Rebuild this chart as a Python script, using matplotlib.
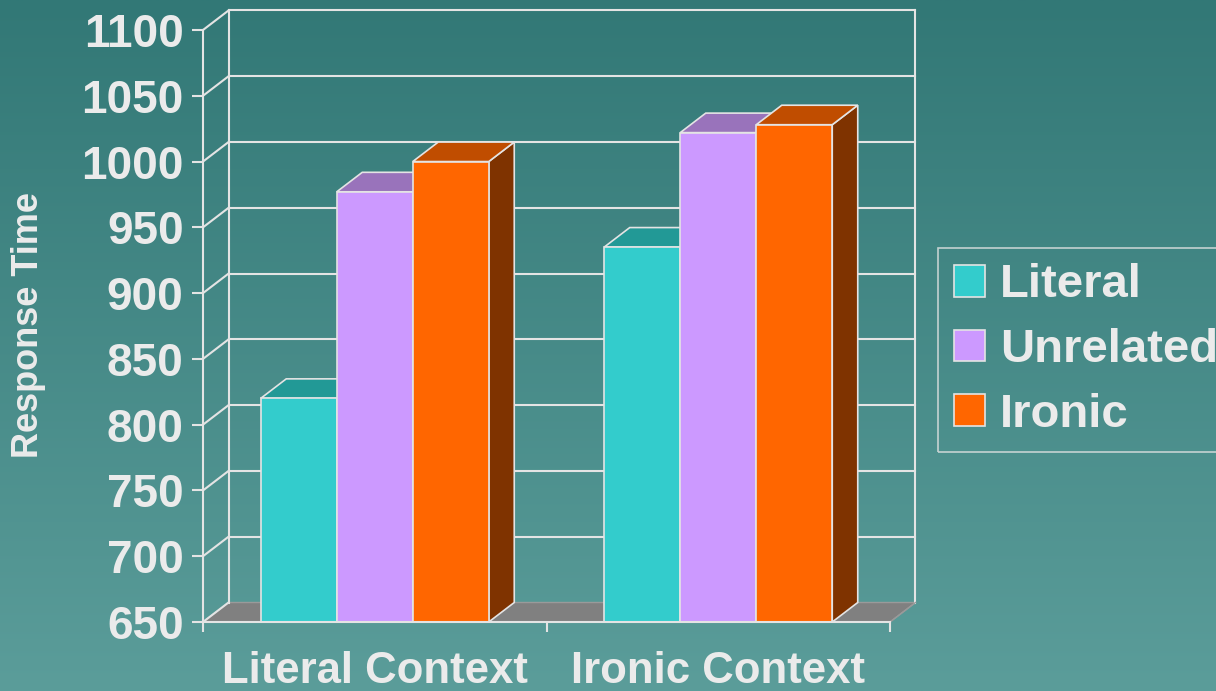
import numpy as np
import matplotlib.pyplot as plt
from matplotlib.patches import Polygon, Patch

plt.rcParams['font.family'] = ['Liberation Sans', 'DejaVu Sans']

# data
contexts = ['Literal Context', 'Ironic Context']
series = ['Literal', 'Unrelated', 'Ironic']
values = {
    'Literal':   [820, 935],
    'Unrelated': [977, 1022],
    'Ironic':    [1000, 1028],
}
yticks = [650, 700, 750, 800, 850, 900, 950, 1000, 1050, 1100]

front = {'Literal': '#33CCCC', 'Unrelated': '#CC99FF', 'Ironic': '#FF6600'}
top = {'Literal': '#229996', 'Unrelated': '#9973BB', 'Ironic': '#C04D00'}
side = {'Literal': '#1E7F7D', 'Unrelated': '#7F5F9F', 'Ironic': '#7F3300'}

txt = '#EBEBEB'
line = '#E4E4E4'

W, H = 1216, 691
fig = plt.figure(figsize=(W / 100, H / 100), dpi=100)

# background gradient
bg = fig.add_axes([0, 0, 1, 1], zorder=-10)
grad = np.linspace(0, 1, 256)[:, None]
c_top = np.array([0x32, 0x78, 0x76]) / 255
c_bot = np.array([0x5B, 0x9D, 0x9A]) / 255
img = c_top[None, None, :] * (1 - grad[:, :, None]) + c_bot[None, None, :] * grad[:, :, None]
bg.imshow(np.repeat(img, 2, axis=1), aspect='auto', extent=[0, 1, 0, 1])
bg.axis('off')

# front plane of the plot
x0px, x1px, y0px, y1px = 203, 890, 622, 30
ax = fig.add_axes([x0px / W, 1 - y0px / H, (x1px - x0px) / W, (y0px - y1px) / H])
ax.set_xlim(-0.5, 1.5)
ax.set_ylim(650, 1100)
ax.patch.set_visible(False)

ddx = 25.5 / 343.5          # depth in category units
ddy = 19.5 / (592 / 450)    # depth in value units
xl, xr = -0.5, 1.5
lo, hi = yticks[0], yticks[-1]
kw = dict(color=line, lw=1.5, clip_on=False, zorder=1)

# floor
ax.add_patch(Polygon([(xl, lo), (xr, lo), (xr + ddx, lo + ddy), (xl + ddx, lo + ddy)],
                     closed=True, facecolor='#808080', edgecolor='#9a9a9a', lw=1,
                     clip_on=False, zorder=0.5))

# walls: side-wall diagonals and back-wall gridlines
for v in yticks:
    ax.plot([xl, xl + ddx], [v, v + ddy], **kw)
    if v > lo:
        ax.plot([xl + ddx, xr + ddx], [v + ddy, v + ddy], **kw)
ax.plot([xl + ddx, xl + ddx], [lo + ddy, hi + ddy], **kw)
ax.plot([xr + ddx, xr + ddx], [lo + ddy, hi + ddy], **kw)
ax.plot([xr, xr + ddx], [lo, lo + ddy], color='#9a9a9a', lw=1, clip_on=False, zorder=1)

# bars
bw = 76 / 343.5
for ci in range(len(contexts)):
    for si, s in enumerate(series):
        v = values[s][ci]
        a = ci + (si - 1.5) * bw
        b = a + bw
        z = 2 + si * 0.1
        ek = dict(edgecolor=line, lw=1.2, clip_on=False, zorder=z)
        ax.add_patch(Polygon([(b, lo), (b + ddx, lo + ddy), (b + ddx, v + ddy), (b, v)],
                             closed=True, facecolor=side[s], **ek))
        ax.add_patch(Polygon([(a, v), (b, v), (b + ddx, v + ddy), (a + ddx, v + ddy)],
                             closed=True, facecolor=top[s], **ek))
        ax.add_patch(Polygon([(a, lo), (b, lo), (b, v), (a, v)],
                             closed=True, facecolor=front[s], **ek))

# axes
for sp in ['top', 'right']:
    ax.spines[sp].set_visible(False)
for sp in ['left', 'bottom']:
    ax.spines[sp].set_color(line)
    ax.spines[sp].set_linewidth(1.5)
    ax.spines[sp].set_zorder(3)

ax.set_yticks(yticks)
ax.set_yticklabels([str(t) for t in yticks], fontsize=33, fontweight='bold', color=txt)
ax.tick_params(axis='y', length=8, width=1.5, color=line, pad=6)

ax.set_xticks(range(len(contexts)))
ax.set_xticklabels(contexts, fontsize=31.5, fontweight='bold', color=txt)
ax.set_xticks([-0.5, 0.5, 1.5], minor=True)
ax.tick_params(axis='x', which='major', length=0, pad=21)
ax.tick_params(axis='x', which='minor', length=7, width=1.5, color=line)

fig.text(29 / W, 1 - 325 / H, 'Response Time', rotation=90, ha='center', va='center',
         fontsize=26, fontweight='bold', color=txt)

# legend
handles = [Patch(facecolor=front[s], edgecolor=line, lw=1.2) for s in series]
leg = fig.legend(handles, series, loc='center left', bbox_to_anchor=(938 / W, 1 - 350 / H),
                 fontsize=34, frameon=True, fancybox=False, handlelength=0.66,
                 handleheight=0.66, handletextpad=0.33, labelspacing=0.44,
                 borderpad=0.33, borderaxespad=0)
leg.get_frame().set_facecolor('none')
leg.get_frame().set_edgecolor(line)
leg.get_frame().set_linewidth(1.2)
for t in leg.get_texts():
    t.set_color(txt)
    t.set_fontweight('bold')

fig.savefig('out.png', dpi=100)
